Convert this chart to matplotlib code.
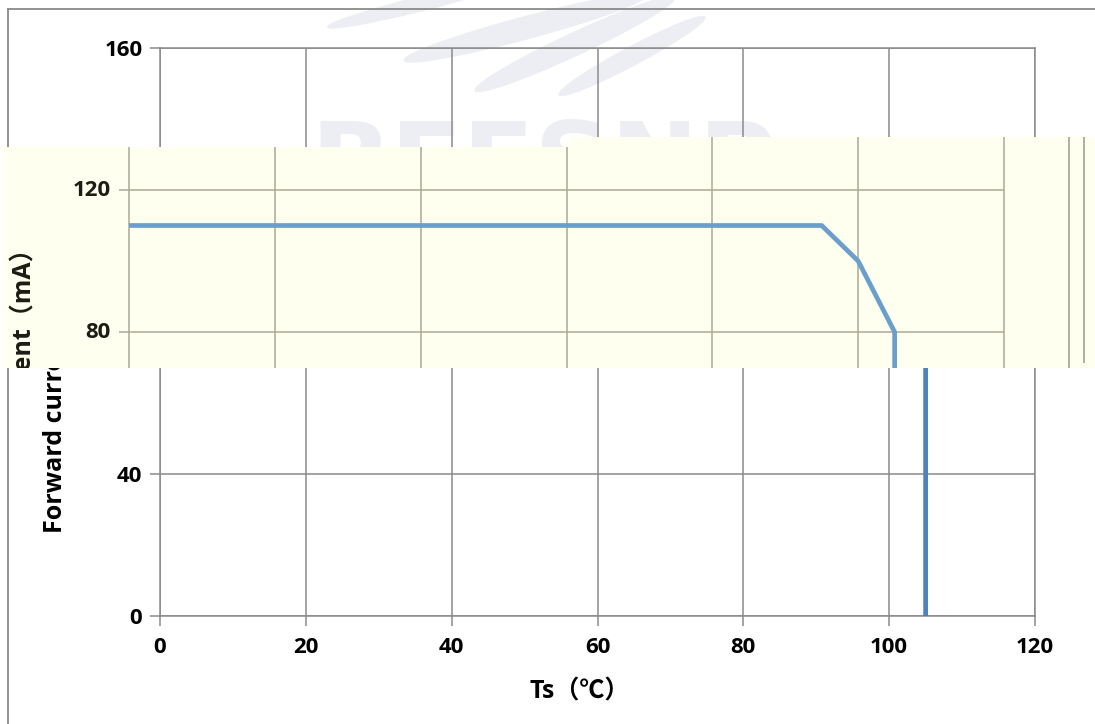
import matplotlib
matplotlib.use("Agg")
import matplotlib.pyplot as plt
from matplotlib.lines import Line2D
from matplotlib.patches import Ellipse
from matplotlib.transforms import IdentityTransform

# derating curve: forward current vs solder point temperature
ts = [0, 95, 100, 105, 105]
current = [110, 110, 100, 80, 0]

x_ticks = [0, 20, 40, 60, 80, 100, 120]
y_ticks = [0, 40, 80, 120, 160]
x_label = "Ts（℃）"
y_label = "Forward current（mA）"
watermark = "BEESNP"

W, H = 1095, 724
FONT = ["Open Sans", "Noto Sans CJK SC", "DejaVu Sans"]
plt.rcParams["font.family"] = FONT
plt.rcParams["font.weight"] = "bold"

# pixel geometry of the base chart
X0_PX, X1_PX = 160, 1035
Y0_PX, Y1_PX = 616, 48
PX_PER_X = (X1_PX - X0_PX) / (x_ticks[-1] - x_ticks[0])
PX_PER_Y = (Y0_PX - Y1_PX) / (y_ticks[-1] - y_ticks[0])
SHIFT = 31  # the pasted strip is the same chart moved left
BAND_TOP, BAND_BOTTOM = 137, 368

BASE_GRID = "#8a8a8a"
BAND_GRID = "#aca896"
BAND_BG = "#fffff0"
TICK_SIZE = 16
LABEL_SIZE = 18


def fig_xy(x, y):
    return x / W, 1 - y / H


fig = plt.figure(figsize=(W / 100, H / 100), dpi=100)

# ---- base chart ----
ax = fig.add_axes([X0_PX / W, 1 - Y0_PX / H, (X1_PX - X0_PX) / W, (Y0_PX - Y1_PX) / H])
ax.set_xlim(x_ticks[0], x_ticks[-1])
ax.set_ylim(y_ticks[0], y_ticks[-1])
ax.set_xticks(x_ticks)
ax.set_yticks(y_ticks)
ax.grid(True, color=BASE_GRID, linewidth=1.1)
for spine in ax.spines.values():
    spine.set_color(BASE_GRID)
    spine.set_linewidth(1.1)
ax.tick_params(axis="both", direction="out", length=7.2, width=1.1, color=BASE_GRID,
               labelsize=TICK_SIZE, labelcolor="black")
ax.tick_params(axis="x", pad=8)
ax.tick_params(axis="y", pad=5.5)
ax.plot(ts, current, color="#4f81bd", linewidth=3.4, solid_capstyle="butt", zorder=3)

lx, ly = fig_xy(56, 385)
ax.text(lx, ly, y_label, transform=fig.transFigure, rotation=90, ha="center", va="center",
        fontsize=LABEL_SIZE)
tx, ty = fig_xy(580, 692)
ax.text(tx, ty, x_label, transform=fig.transFigure, ha="center", va="center",
        fontsize=LABEL_SIZE)

# faint logo watermark
for cx, cy, length, thick, ang in [(420, 4, 190, 14, 14), (525, 28, 250, 22, 15),
                                   (575, 44, 220, 22, 25), (632, 56, 165, 18, 28)]:
    ax.add_patch(Ellipse((cx, H - cy), length, thick, angle=ang, color="#eceef3",
                         transform=IdentityTransform(), clip_on=False, zorder=0.5))
wx, wy = fig_xy(310, 118)
ax.text(wx, wy, watermark, transform=fig.transFigure, ha="left", va="top", fontsize=76,
        color="#eceef3", family="DejaVu Sans", zorder=0.5)

# outer frame of the chart area
for xs, ys in [((8, 8), (9, H)), ((8, W), (9, 9))]:
    fx = [x / W for x in xs]
    fy = [1 - y / H for y in ys]
    ax.add_line(Line2D(fx, fy, transform=fig.transFigure, color=BASE_GRID, linewidth=1.3,
                       clip_on=False, zorder=4))


# ---- pasted strip (same chart, shifted left, cream background) ----
def add_band(left, right, top, bottom):
    band = fig.add_axes([left / W, 1 - bottom / H, (right - left) / W, (bottom - top) / H])
    band.set_facecolor(BAND_BG)
    band.set_xticks([])
    band.set_yticks([])
    for spine in band.spines.values():
        spine.set_visible(False)
    ox = X0_PX - SHIFT
    band.set_xlim((left - ox) / PX_PER_X, (right - ox) / PX_PER_X)
    band.set_ylim((Y0_PX - bottom) / PX_PER_Y, (Y0_PX - top) / PX_PER_Y)
    ymin, ymax = band.get_ylim()
    stub = 10 / PX_PER_X
    band.vlines(x_ticks, ymin, ymax, color=BAND_GRID, linewidth=1.1)
    band.hlines(y_ticks, -stub, x_ticks[-1], color=BAND_GRID, linewidth=1.1)
    # right-hand frame edges of the pasted copy
    band.vlines([(1069 - ox) / PX_PER_X], ymin, ymax, color=BAND_GRID, linewidth=1.3)
    band.vlines([(1084 - ox) / PX_PER_X], (Y0_PX - 363) / PX_PER_Y, ymax,
                color=BAND_GRID, linewidth=1.3)
    band.plot(ts, current, color="#6b9fcb", linewidth=3.4, solid_capstyle="butt", zorder=3)
    if left < ox:
        for v in y_ticks:
            band.text(-(18 / PX_PER_X), v, str(v), ha="right", va="center",
                      fontsize=TICK_SIZE, color="#1c1c14", clip_on=True)
        bx, by = fig_xy(56 - SHIFT, 385)
        band.text(bx, by, y_label, transform=fig.transFigure, rotation=90, ha="center",
                  va="center", fontsize=LABEL_SIZE, color="#1c1c14", clip_on=True)
    return band


add_band(3, 570, 147, BAND_BOTTOM)
add_band(570, W, BAND_TOP, BAND_BOTTOM)

fig.savefig("out.png", dpi=100, facecolor="white")
